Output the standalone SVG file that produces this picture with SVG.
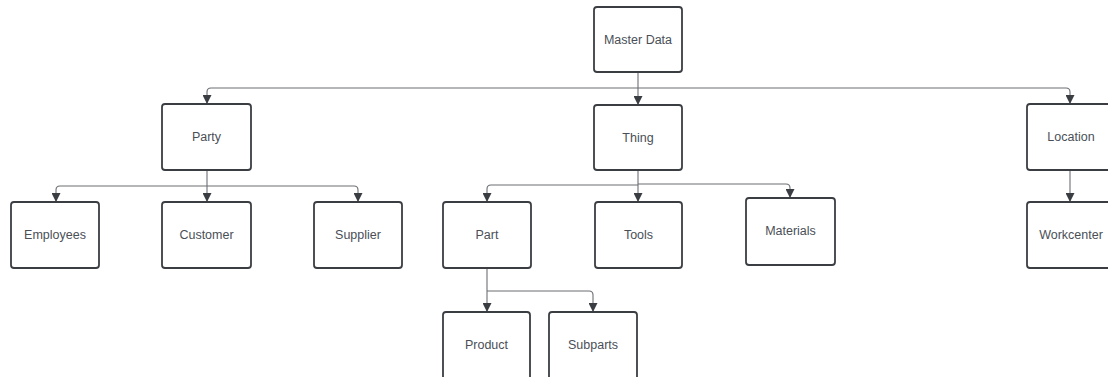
<svg xmlns="http://www.w3.org/2000/svg" width="1108" height="377" viewBox="0 0 1108 377">
  <defs>
    <marker id="arrow" viewBox="0 0 10 10" refX="10" refY="5" markerWidth="9" markerHeight="9" markerUnits="userSpaceOnUse" orient="auto">
      <path d="M0,0 L10,5 L0,10 Z" fill="#3a3d42"/>
    </marker>
    <style>
      .box { fill: #ffffff; stroke: #3a3d42; stroke-width: 1.8; }
      .label { font-family: "Liberation Sans", Arial, sans-serif; font-size: 12.5px; fill: #4a4f57; text-anchor: middle; dominant-baseline: central; }
      .edge { fill: none; stroke: #6b6e73; stroke-width: 1.1; }
      .edge-arrow { fill: none; stroke: #6b6e73; stroke-width: 1.1; marker-end: url(#arrow); }
    </style>
  </defs>
  <rect width="1108" height="377" fill="#ffffff"/>

  <!-- connectors -->
  <g id="connectors">
    <!-- Master Data to level 1 -->
    <path class="edge-arrow" d="M638,72 L638,105"/>
    <path class="edge-arrow" d="M638,88 L211,88 Q207,88 207,92 L207,104"/>
    <path class="edge-arrow" d="M638,88 L1066,88 Q1070,88 1070,92 L1070,104"/>
    <!-- Party children -->
    <path class="edge-arrow" d="M207,170 L207,202"/>
    <path class="edge-arrow" d="M207,186 L60,186 Q56,186 56,190 L56,202"/>
    <path class="edge-arrow" d="M207,186 L354,186 Q358,186 358,190 L358,202"/>
    <!-- Thing children -->
    <path class="edge-arrow" d="M638,170 L638,202"/>
    <path class="edge-arrow" d="M638,185 L491,185 Q487,185 487,189 L487,202"/>
    <path class="edge-arrow" d="M638,184 L786,184 Q790,184 790,188 L790,198"/>
    <!-- Location child -->
    <path class="edge-arrow" d="M1070,170 L1070,202"/>
    <!-- Part children -->
    <path class="edge-arrow" d="M487,268 L487,312"/>
    <path class="edge-arrow" d="M487,291 L589,291 Q593,291 593,295 L593,312"/>
  </g>

  <g id="master-data">
    <rect class="box" x="594" y="7" width="88" height="65" rx="3"/>
    <text class="label" x="638" y="39.5">Master Data</text>
  </g>
  <g id="party">
    <rect class="box" x="162" y="104" width="89" height="66" rx="3"/>
    <text class="label" x="206.5" y="137">Party</text>
  </g>
  <g id="thing">
    <rect class="box" x="594" y="105" width="88" height="65" rx="3"/>
    <text class="label" x="638" y="137.5">Thing</text>
  </g>
  <g id="location">
    <rect class="box" x="1027" y="104" width="88" height="66" rx="3"/>
    <text class="label" x="1071" y="137">Location</text>
  </g>
  <g id="employees">
    <rect class="box" x="11" y="202" width="88" height="66" rx="3"/>
    <text class="label" x="55" y="235">Employees</text>
  </g>
  <g id="customer">
    <rect class="box" x="162" y="202" width="89" height="66" rx="3"/>
    <text class="label" x="206.5" y="235">Customer</text>
  </g>
  <g id="supplier">
    <rect class="box" x="314" y="202" width="88" height="66" rx="3"/>
    <text class="label" x="358" y="235">Supplier</text>
  </g>
  <g id="part">
    <rect class="box" x="443" y="202" width="88" height="66" rx="3"/>
    <text class="label" x="487" y="235">Part</text>
  </g>
  <g id="tools">
    <rect class="box" x="595" y="202" width="87" height="66" rx="3"/>
    <text class="label" x="638.5" y="235">Tools</text>
  </g>
  <g id="materials">
    <rect class="box" x="746" y="198" width="89" height="67" rx="3"/>
    <text class="label" x="790.5" y="231">Materials</text>
  </g>
  <g id="workcenter">
    <rect class="box" x="1027" y="202" width="88" height="66" rx="3"/>
    <text class="label" x="1071" y="235">Workcenter</text>
  </g>
  <g id="product">
    <rect class="box" x="443" y="312" width="87" height="80" rx="3"/>
    <text class="label" x="486.5" y="345">Product</text>
  </g>
  <g id="subparts">
    <rect class="box" x="549" y="312" width="88" height="80" rx="3"/>
    <text class="label" x="593" y="345">Subparts</text>
  </g>
</svg>
